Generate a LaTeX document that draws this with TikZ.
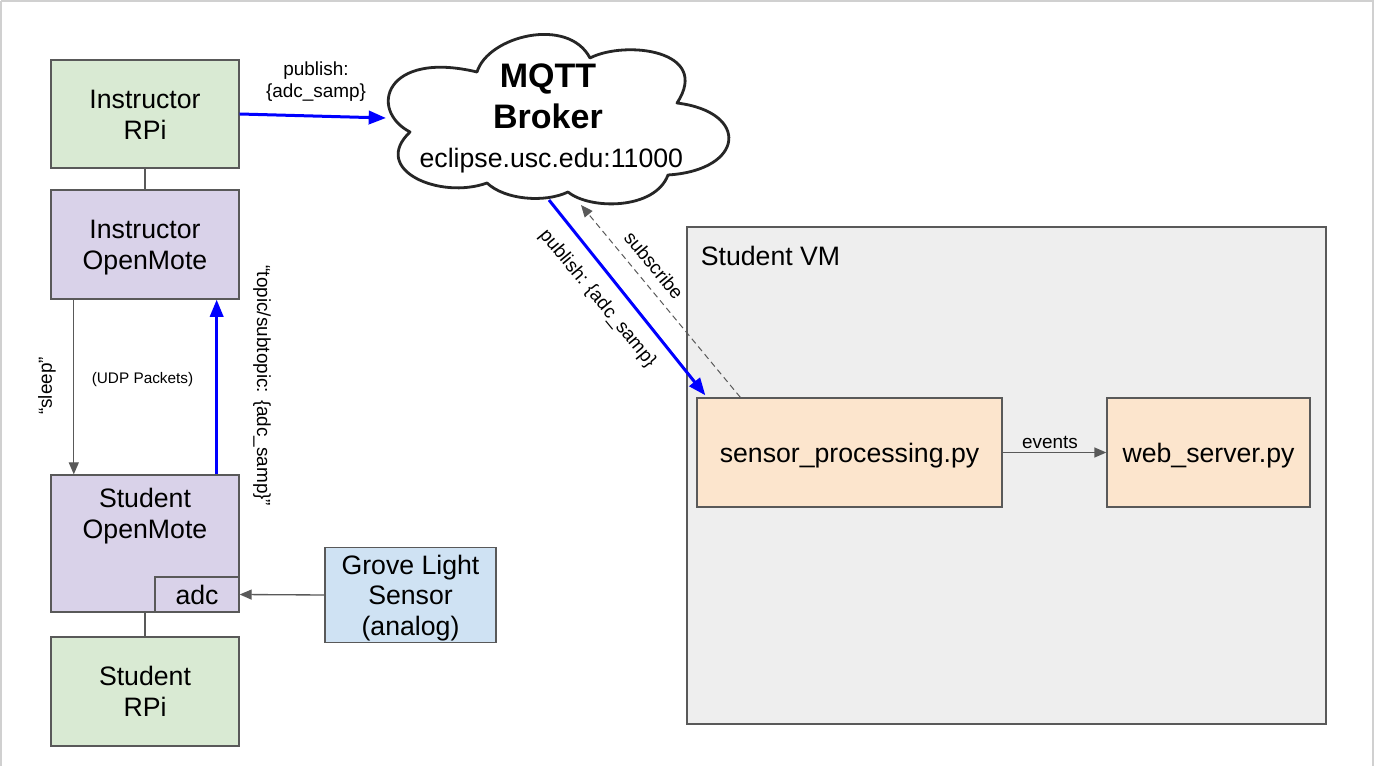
\documentclass[tikz,border=0pt]{standalone}
\usepackage{fontspec}
\setmainfont{Liberation Sans}
\usetikzlibrary{arrows.meta}

\begin{document}
\begin{tikzpicture}[x=.75pt, y=-.75pt, >=Latex, every node/.style={font=\rmfamily, align=center, inner sep=0pt},
  box/.style={draw=LineGray, line width=1pt, fill=#1},
  bigtext/.style={font=\fontsize{20}{23}\selectfont, execute at begin node={\rule{0pt}{20pt}}, execute at end node={\rule[-5.3pt]{0pt}{5.3pt}}},
  lowered/.style={execute at begin node={\rule{0pt}{#1}}}, lowered/.default=43pt,
  small/.style={font=\fontsize{14.2}{17}\selectfont},
  graylink/.style={draw=LineGray, line width=1pt, -{Triangle[length=9pt,width=7.5pt]}},
  bluelink/.style={draw=Pub, line width=2.25pt, -{Triangle[length=13pt,width=10pt]}}]
\definecolor{LineGray}{HTML}{595959}\definecolor{Frame}{HTML}{D0D0D0}\definecolor{Pub}{HTML}{0000FF}
\definecolor{RPi}{HTML}{D9EAD3}\definecolor{Mote}{HTML}{D9D2E9}\definecolor{Sensor}{HTML}{CFE2F3}\definecolor{VM}{HTML}{EEEEEE}\definecolor{Script}{HTML}{FCE5CD}
\useasboundingbox (0,0) rectangle (1375,766);
\fill[white] (0,0) rectangle (1375,766);
\draw[Frame, line width=1.5pt] (1,1) -- (1373,1) -- (1373,766) (1,1) -- (1,766);
\node[box=VM, minimum width=479.25pt, minimum height=372.75pt] (studentVM) at (1006.5,475.5) {};
\node[bigtext] (vmLabel) at (770.5,256) {Student VM};
\node[box=RPi, minimum width=141pt, minimum height=81pt, bigtext, lowered] (instrRPi) at (145,114) {Instructor\\RPi};
\node[box=Mote, minimum width=141pt, minimum height=81.75pt, bigtext, lowered] (instrMote) at (145,244.5) {Instructor\\OpenMote};
\node[box=Mote, minimum width=141pt, minimum height=102.75pt] (studMote) at (145,543.5) {};
\node[bigtext, lowered] (studMoteLabel) at (145,513) {Student\\OpenMote};
\node[box=Mote, minimum width=63pt, minimum height=26.25pt, bigtext, lowered=20.9pt] (adc) at (197,594.5) {adc};
\node[box=RPi, minimum width=141pt, minimum height=81.75pt, bigtext, lowered] (studRPi) at (145,691.5) {Student\\RPi};
\node[box=Sensor, minimum width=128.25pt, minimum height=70.5pt, bigtext, lowered=66pt] (grove) at (410.5,595) {Grove Light\\Sensor\\(analog)};
\node[box=Script, minimum width=228.75pt, minimum height=81.75pt, bigtext] (sensorProc) at (849.5,452.5) {sensor\_processing.py};
\node[box=Script, minimum width=152.25pt, minimum height=81.75pt, bigtext] (webServer) at (1208.5,452.5) {web\_server.py};
\draw[draw=black!85, line width=2.1pt, fill=white, line join=round] (477,72) .. controls (488,36) and (568,16) .. (590,58) .. controls (625,40) and (712,50) .. (677,103) .. controls (750,112) and (745,170) .. (668,175) .. controls (655,210) and (590,210) .. (568,192) .. controls (545,203) and (505,200) .. (487,183) .. controls (440,200) and (370,170) .. (410,132) .. controls (368,110) and (385,50) .. cycle;
\node[font=\fontsize{20}{30.75}\selectfont] (broker) at (548,118) {{\fontsize{25.5}{30.75}\selectfont\bfseries MQTT}\\{\fontsize{25.5}{30.75}\selectfont\bfseries Broker}\\[-1.5pt]\hspace*{5pt}eclipse.usc.edu:11000};
\coordinate (brokerWest) at (386,118); \coordinate (brokerSouth) at (549,200); \coordinate (brokerSub) at (581,205);
\draw[draw=LineGray, line width=1pt] (instrRPi.south) -- (instrMote.north);
\draw[draw=LineGray, line width=1pt] (studMote.south) -- (studRPi.north);
\draw[bluelink] (instrRPi.east) -- (brokerWest);
\draw[graylink] ([xshift=17.6pt]instrMote.south west) -- ([xshift=17.6pt]studMote.north west);
\draw[bluelink] ([xshift=-17.25pt]studMote.north east) -- ([xshift=-17.25pt]instrMote.south east);
\draw[bluelink] (brokerSouth) -- ([xshift=6.75pt,yshift=1.5pt]sensorProc.north west);
\draw[graylink, dash pattern=on 4.5pt off 3pt, line width=.75pt] ([xshift=33pt]sensorProc.north west) -- (brokerSub);
\draw[graylink] (sensorProc.east) -- (webServer.west);
\draw[graylink] (grove.west) -- (adc.east);
\node[small] (pubLabel) at (316,81.5) {publish:\\\{adc\_samp\}};
\node[small, rotate=90] (sleepLabel) at (47,386) {“sleep”};
\node[font=\fontsize{11.5}{14}\selectfont] (udpLabel) at (142.5,380) {(UDP Packets)};
\node[small, rotate=-90] (topicLabel) at (262,386) {“topic/subtopic: \{adc\_samp\}”};
\node[small, rotate=-50.5] (pubDiag) at (597.5,298.5) {publish: \{adc\_samp\}};
\node[small, rotate=-50.5] (subLabel) at (654,265) {subscribe};
\node[small] (eventsLabel) at (1050,442) {events};
\end{tikzpicture}
\end{document}
